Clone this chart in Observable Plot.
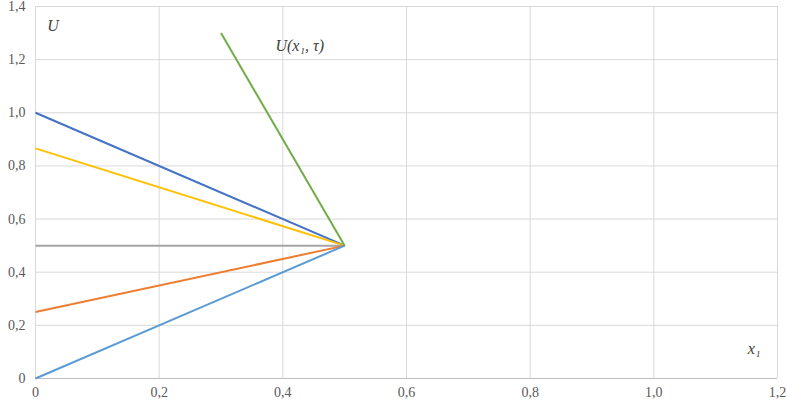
<!DOCTYPE html>
<html><head><meta charset="utf-8">
<script src="https://cdn.jsdelivr.net/npm/d3@7"></script>
<script src="https://cdn.jsdelivr.net/npm/@observablehq/plot@0.6"></script>
<style>
body{margin:0;background:#fff}
</style>
</head><body><div id="chart"></div>
<script>
const seriesNames = ["s1","s2","s3","s4","s5","s6"];
const seriesColors = ["#4472C4","#FFC000","#A5A5A5","#ED7D31","#5B9BD5","#70AD47"];
const startX = [0, 0, 0, 0, 0, 0.3];
const startY = [1.0, 0.866, 0.5, 0.25, 0, 1.3];
const endX = [0.5, 0.5, 0.5, 0.5, 0.5, 0.5];
const endY = [0.5, 0.5, 0.5, 0.5, 0.5, 0.5];
const xTicks = [0, 0.2, 0.4, 0.6, 0.8, 1.0, 1.2];
const yTicks = [0, 0.2, 0.4, 0.6, 0.8, 1.0, 1.2, 1.4];
const labels = [
  {x: 0.019, y: 1.327, t: "U"},
  {x: 0.388, y: 1.252, t: "U(x\u2081, \u03C4)"},
  {x: 1.152, y: 0.113, t: "x\u2081"}
];

const segs = seriesNames.map((s, i) => ({s, x1: startX[i], y1: startY[i], x2: endX[i], y2: endY[i], c: seriesColors[i]}));
const fmt = d => d === 0 ? "0" : d.toFixed(1).replace(".", ",");
const serif = "'Tinos', 'Times New Roman', 'Liberation Serif', 'DejaVu Serif', 'Noto Serif', Times, serif";

const chart = Plot.plot({
  width: 787, height: 406,
  marginLeft: 35, marginRight: 10, marginTop: 6, marginBottom: 28,
  style: {fontSize: "14px", fontFamily: serif, color: "#595959", background: "#fff"},
  x: {domain: [0, 1.2], ticks: xTicks, tickFormat: fmt, tickSize: 0, tickPadding: 9, label: null},
  y: {domain: [0, 1.4], ticks: yTicks, tickFormat: fmt, tickSize: 0, tickPadding: 10, label: null},
  marks: [
    Plot.gridX(xTicks, {stroke: "#d9d9d9", strokeOpacity: 1}),
    Plot.gridY(yTicks, {stroke: "#d9d9d9", strokeOpacity: 1}),
    Plot.ruleY([0], {stroke: "#bfbfbf"}),
    Plot.link(segs, {x1: "x1", y1: "y1", x2: "x2", y2: "y2", stroke: "c", strokeWidth: 2}),
    Plot.text(labels, {x: "x", y: "y", text: "t", textAnchor: "start", fontStyle: "italic", fontSize: 16, fontFamily: serif, fill: "#404040"})
  ]
});
d3.select(chart).selectAll("text").style("font-family", serif);
document.getElementById("chart").appendChild(chart);
</script></body></html>
